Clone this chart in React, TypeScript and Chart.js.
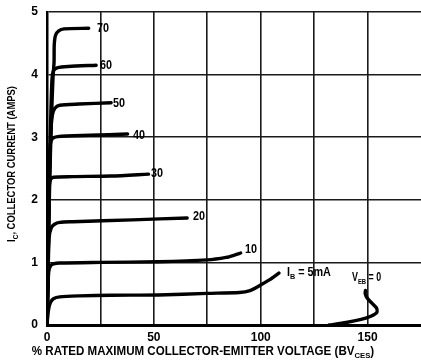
import { useEffect, useRef } from "react";
import { Chart, registerables } from "chart.js";

Chart.register(...registerables);

// ---- data (x: % rated BVces, y: collector current in amps) ----
const X_TICK_LABELS = [0, 50, 100, 150];
const Y_TICK_LABELS = [0, 1, 2, 3, 4, 5];

const IB_5MA: [number, number][] = [
  [0, 0], [0.3, 0.12], [0.8, 0.26], [1.6, 0.36], [3, 0.42], [6, 0.45], [15, 0.465],
  [30, 0.475], [52, 0.48], [75, 0.505], [90, 0.52], [95, 0.55], [99, 0.62], [104, 0.72], [108.5, 0.83],
];
const IB_10: [number, number][] = [
  [0, 0], [0.4, 0.5], [0.8, 0.85], [1.6, 0.94], [3, 0.975], [6, 0.99], [25, 1.0],
  [52, 1.01], [75, 1.04], [83.8, 1.08], [88, 1.12], [90.6, 1.15],
];
const IB_20: [number, number][] = [
  [0, 0], [0.5, 0.8], [1, 1.4], [2, 1.55], [3.5, 1.61], [6, 1.64], [12, 1.65],
  [40, 1.68], [65.6, 1.71],
];
const IB_30: [number, number][] = [
  [0, 0], [0.6, 1.5], [1, 2.2], [1.6, 2.32], [3, 2.36], [12, 2.37], [30, 2.38], [47.5, 2.41],
];
const IB_40: [number, number][] = [
  [0, 0], [0.7, 1.8], [1.1, 2.6], [1.6, 2.9], [2.6, 2.98], [5, 3.01], [20, 3.03], [37.7, 3.05],
];
const IB_50: [number, number][] = [
  [0, 0], [0.8, 1.8], [1.3, 2.6], [1.9, 3.15], [2.5, 3.35], [3.6, 3.46], [6, 3.51], [15, 3.53], [30, 3.55],
];
const IB_60: [number, number][] = [
  [0, 0], [1, 2], [1.6, 3.1], [2.3, 3.9], [3, 4.06], [5, 4.11], [10, 4.13], [23, 4.15],
];
const IB_70: [number, number][] = [
  [0, 0], [1.2, 2.2], [2, 3.2], [2.8, 3.95], [3.3, 4.2], [3.4, 4.48], [4, 4.63], [5.5, 4.7],
  [8, 4.73], [19.5, 4.74],
];
const VEB_0: [number, number][] = [
  [132, 0], [140, 0.04], [147, 0.09], [151.5, 0.14], [154.3, 0.2], [154.2, 0.27], [152, 0.35],
  [149.8, 0.43], [148.9, 0.5], [149, 0.55],
];

const SERIES = [IB_5MA, IB_10, IB_20, IB_30, IB_40, IB_50, IB_60, IB_70, VEB_0];
const SERIES_NAMES = ["5mA", "10", "20", "30", "40", "50", "60", "70", "VEB=0"];

// curve annotations: parts (text, isSubscript), anchored at data coords
type Part = [string, boolean];
const LABEL_TEXT: Part[][] = [
  [["70", false]],
  [["60", false]],
  [["50", false]],
  [["40", false]],
  [["30", false]],
  [["20", false]],
  [["10", false]],
  [["I", false], ["B", true], [" = 5mA", false]],
  [["V", false], ["EB", true], [" = 0", false]],
];
const LABEL_X = [23.4, 24.8, 30.9, 40.2, 48.7, 68.3, 92.7, 112.3, 142.7];
const LABEL_Y = [4.73, 4.15, 3.53, 3.02, 2.41, 1.73, 1.21, 0.83, 0.75];
const LABEL_SQUEEZE = [0.9, 0.9, 0.9, 0.9, 0.9, 0.9, 0.9, 0.9, 0.74];

const Y_TITLE: Part[] = [["I", false], ["C", true], [", COLLECTOR CURRENT (AMPS)", false]];
const X_TITLE: Part[] = [
  ["% RATED MAXIMUM COLLECTOR-EMITTER VOLTAGE (BV", false],
  ["CES", true],
  [")", false],
];

const FONT_FAMILY = '"Liberation Sans", Arial, sans-serif';

function partsWidth(ctx: CanvasRenderingContext2D, parts: Part[], size: number, subSize: number) {
  let w = 0;
  for (const [t, sub] of parts) {
    ctx.font = `bold ${sub ? subSize : size}px ${FONT_FAMILY}`;
    w += ctx.measureText(t).width;
  }
  return w;
}

function drawParts(
  ctx: CanvasRenderingContext2D,
  parts: Part[],
  x: number,
  y: number,
  size: number,
  subSize: number,
  squeeze: number,
) {
  ctx.save();
  ctx.translate(x, y);
  ctx.scale(squeeze, 1);
  let cx = 0;
  ctx.textBaseline = "middle";
  ctx.textAlign = "left";
  for (const [t, sub] of parts) {
    ctx.font = `bold ${sub ? subSize : size}px ${FONT_FAMILY}`;
    ctx.fillText(t, cx, sub ? size * 0.32 : 0);
    cx += ctx.measureText(t).width;
  }
  ctx.restore();
}

const annotationPlugin = {
  id: "annotations",
  afterDraw(chart: any) {
    const { ctx, scales } = chart;
    const xs = scales.x;
    const ys = scales.y;
    ctx.save();
    ctx.fillStyle = "#000";
    LABEL_TEXT.forEach((parts, i) => {
      const px = xs.getPixelForValue(LABEL_X[i]);
      const py = ys.getPixelForValue(LABEL_Y[i]);
      drawParts(ctx, parts, px, py, 12, 8, LABEL_SQUEEZE[i]);
    });
    // x axis title
    const xSq = 0.965;
    const xw = partsWidth(ctx, X_TITLE, 12, 8) * xSq;
    drawParts(ctx, X_TITLE, 203 - xw / 2, 352, 12, 8, xSq);
    // y axis title (rotated)
    const ySq = 0.82;
    const yw = partsWidth(ctx, Y_TITLE, 11.5, 8) * ySq;
    ctx.translate(12, 164);
    ctx.rotate(-Math.PI / 2);
    drawParts(ctx, Y_TITLE, -yw / 2, 0, 11.5, 8, ySq);
    ctx.restore();
  },
};

export default function App() {
  const ref = useRef<HTMLCanvasElement | null>(null);

  useEffect(() => {
    document.body.style.margin = "0";
    document.body.style.overflow = "hidden";
    const canvas = ref.current;
    if (!canvas) return;
    const chart = new Chart(canvas, {
      type: "line",
      data: {
        datasets: SERIES.map((pts, i) => ({
          label: SERIES_NAMES[i],
          data: pts.map(([x, y]) => ({ x, y })),
          borderColor: "#000",
          borderWidth: 3.4,
          pointRadius: 0,
          tension: 0.25,
          fill: false,
          borderCapStyle: "round" as const,
          borderJoinStyle: "round" as const,
        })),
      },
      options: {
        responsive: false,
        animation: false,
        devicePixelRatio: 1,
        layout: { padding: { top: 12, right: 0, left: 0, bottom: 0 } },
        plugins: {
          legend: { display: false },
          tooltip: { enabled: false },
        },
        scales: {
          x: {
            type: "linear",
            min: 0,
            max: 175,
            afterFit(scale: any) {
              scale.height = 36;
              scale.paddingLeft = 0;
              scale.paddingRight = 0;
            },
            ticks: {
              stepSize: 25,
              padding: 5,
              color: "#000",
              font: { family: FONT_FAMILY, size: 12, weight: "bold" },
              maxRotation: 0,
              autoSkip: false,
              callback: (v: any) => (X_TICK_LABELS.includes(Number(v)) ? String(v) : ""),
            },
            grid: {
              drawTicks: false,
              color: (c: any) => (c.tick && (c.tick.value === 175 || c.tick.value === 0) ? "rgba(0,0,0,0)" : "#1a1a1a"),
              lineWidth: 1.6,
            },
            border: { display: true, color: "#000", width: 3 },
          },
          y: {
            type: "linear",
            min: 0,
            max: 5,
            afterFit(scale: any) {
              scale.width = 47;
              scale.paddingTop = 0;
              scale.paddingBottom = 0;
            },
            ticks: {
              stepSize: 1,
              padding: 9,
              color: "#000",
              font: { family: FONT_FAMILY, size: 12, weight: "bold" },
              callback: (v: any) => (Y_TICK_LABELS.includes(Number(v)) ? String(v) : ""),
            },
            grid: {
              drawTicks: false,
              color: "#1a1a1a",
              lineWidth: 1.6,
            },
            border: { display: true, color: "#000", width: 2.5 },
          },
        },
      },
      plugins: [annotationPlugin],
    });
    return () => chart.destroy();
  }, []);

  return <canvas ref={ref} width={421} height={361} style={{ display: "block", width: 421, height: 361 }} />;
}
